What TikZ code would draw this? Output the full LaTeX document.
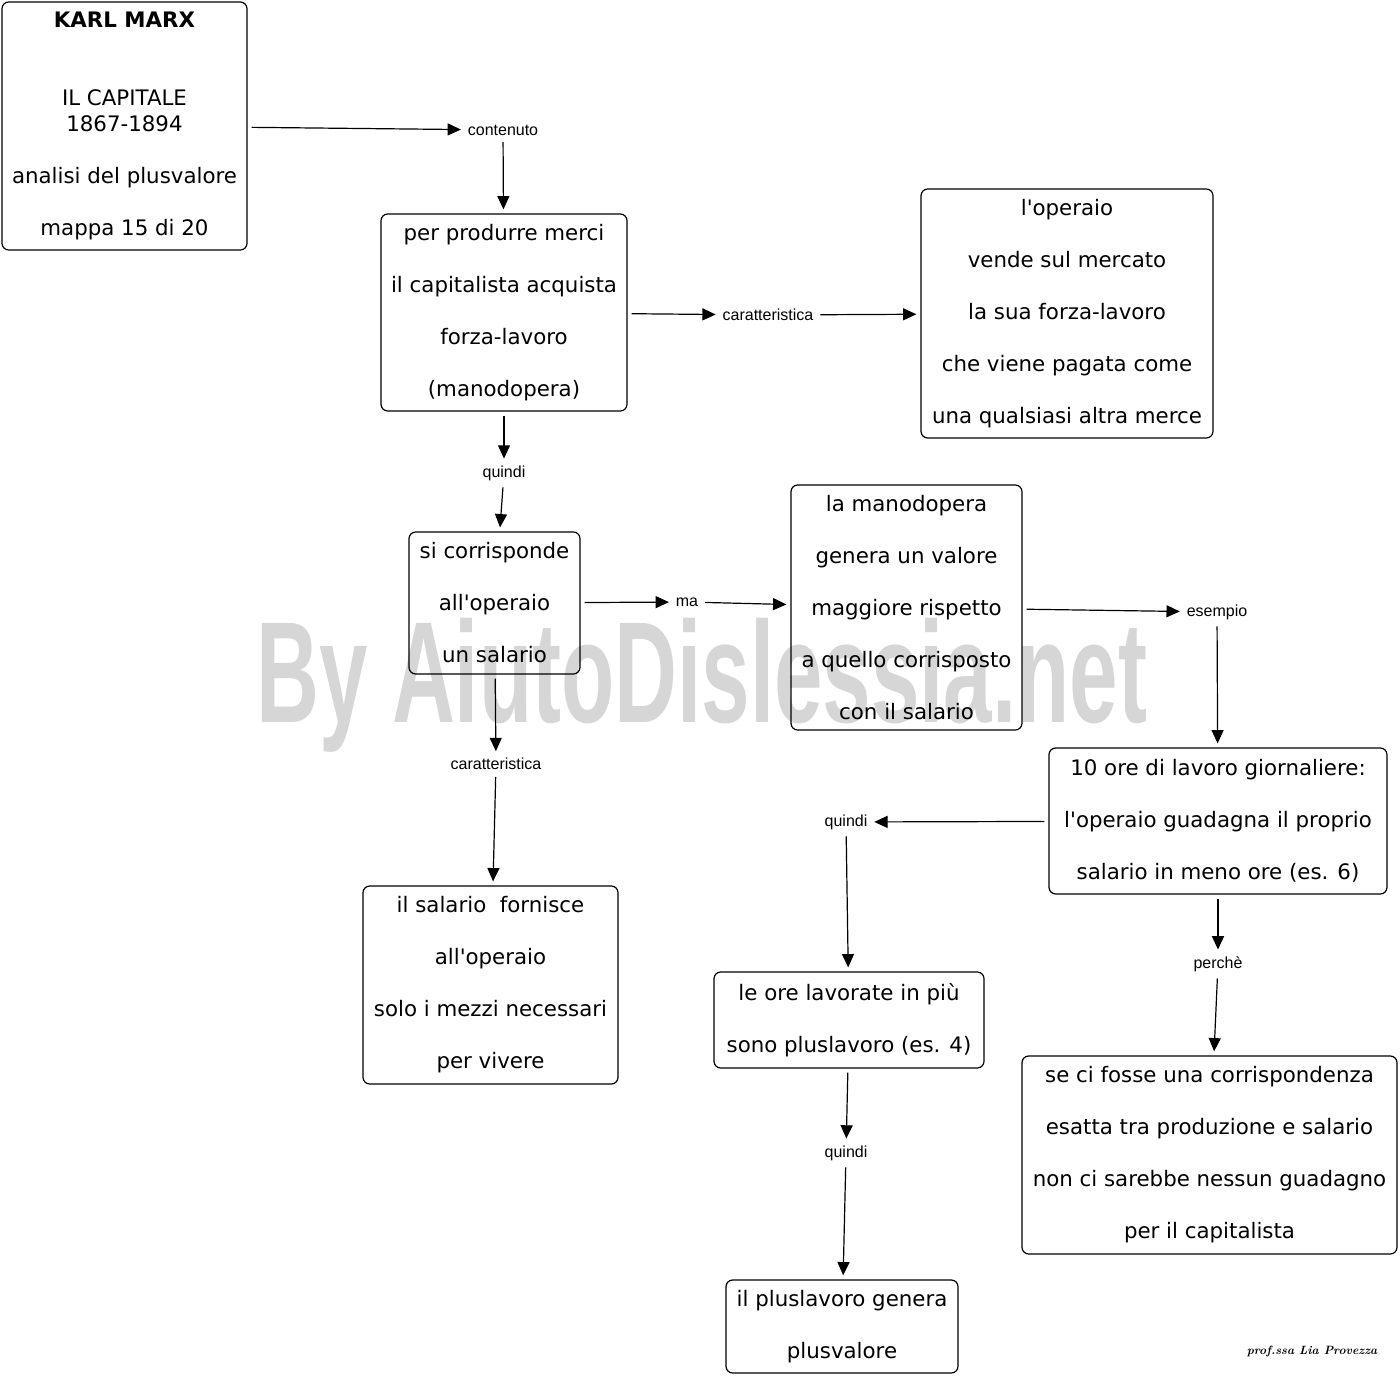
\documentclass[tikz,border=0pt]{standalone}
\usepackage{fontspec}
\newfontfamily\boxfont{DejaVu Sans}
\newfontfamily\labfont{Liberation Sans}
\usetikzlibrary{arrows.meta}
\newlength\pxu
\setlength\pxu{0.75pt}
\tikzset{
  box/.style={draw, rounded corners=5pt, line width=0.9pt, inner sep=0pt, align=center,
    font=\boxfont\fontsize{16}{19.5}\selectfont},
  lab/.style={font=\labfont\fontsize{12}{14}\selectfont, inner sep=2pt},
  conn/.style={-{Triangle[length=10pt,width=9pt]}, line width=0.9pt, shorten <=3pt, shorten >=3pt},
}
\begin{document}
\begin{tikzpicture}[x=0.75pt,y=-0.75pt]
\useasboundingbox (0,0) rectangle (1400,1376);
% watermark
\node[anchor=base, text=black!16, inner sep=0pt, font=\labfont\bfseries\fontsize{108}{112}\selectfont] (wm) at (702,722) {\scalebox{0.605}[1]{By AiutoDislessia.net}};
% boxes
\node[box, minimum width=245\pxu, minimum height=248\pxu] (b1) at (124.5,126)
  {\textbf{KARL MARX}\\[39pt]IL CAPITALE\\1867-1894\\[19.5pt]analisi del plusvalore\\[19.5pt]mappa 15 di 20};
\node[box, minimum width=246\pxu, minimum height=197\pxu] (b2) at (504,312.5)
  {per produrre merci\\[19.5pt]il capitalista acquista\\[19.5pt]forza-lavoro\\[19.5pt](manodopera)};
\node[box, minimum width=292\pxu, minimum height=249\pxu] (b3) at (1067,313.5)
  {l'operaio\\[19.5pt]vende sul mercato\\[19.5pt]la sua forza-lavoro\\[19.5pt]che viene pagata come\\[19.5pt]una qualsiasi altra merce};
\node[box, minimum width=171\pxu, minimum height=142\pxu] (b4) at (494.5,603)
  {si corrisponde\\[19.5pt]all'operaio\\[19.5pt]un salario};
\node[box, minimum width=231\pxu, minimum height=245\pxu] (b5) at (906.5,607.5)
  {la manodopera\\[19.5pt]genera un valore\\[19.5pt]maggiore rispetto\\[19.5pt]a quello corrisposto\\[19.5pt]con il salario};
\node[box, minimum width=338\pxu, minimum height=146\pxu] (b6) at (1218,821)
  {10 ore di lavoro giornaliere:\\[19.5pt]l'operaio guadagna il proprio\\[19.5pt]salario in meno ore (es. 6)};
\node[box, minimum width=255\pxu, minimum height=198\pxu] (b7) at (490.5,985)
  {il salario\ \ fornisce\\[19.5pt]all'operaio\\[19.5pt]solo i mezzi necessari\\[19.5pt]per vivere};
\node[box, minimum width=270\pxu, minimum height=96\pxu] (b8) at (849,1020)
  {le ore lavorate in più\\[19.5pt]sono pluslavoro (es. 4)};
\node[box, minimum width=375\pxu, minimum height=198\pxu] (b9) at (1209.5,1155)
  {se ci fosse una corrispondenza\\[19.5pt]esatta tra produzione e salario\\[19.5pt]non ci sarebbe nessun guadagno\\[19.5pt]per il capitalista};
\node[box, minimum width=232\pxu, minimum height=93\pxu] (b10) at (842,1326.5)
  {il pluslavoro genera\\[19.5pt]plusvalore};
% labels
\node[lab] (l1) at (503,130) {contenuto};
\node[lab] (l2) at (768,315) {caratteristica};
\node[lab] (l3) at (504,473) {quindi};
\node[lab] (l4) at (687,602) {ma};
\node[lab] (l5) at (1217,612) {esempio};
\node[lab] (l6) at (496,764) {caratteristica};
\node[lab] (l7) at (846,822) {quindi};
\node[lab] (l8) at (1218,964) {perchè};
\node[lab] (l9) at (846,1153) {quindi};
% connectors
\draw[conn] (b1) -- (l1);
\draw[conn] (l1) -- (b2);
\draw[conn] (b2) -- (l2);
\draw[conn] (l2) -- (b3);
\draw[conn] (b2) -- (l3);
\draw[conn] (l3) -- (b4);
\draw[conn] (b4) -- (l4);
\draw[conn] (l4) -- (b5);
\draw[conn] (b5) -- (l5);
\draw[conn] (l5) -- (b6);
\draw[conn] (b4) -- (l6);
\draw[conn] (l6) -- (b7);
\draw[conn] (b6) -- (l7);
\draw[conn] (l7) -- (b8);
\draw[conn] (b6) -- (l8);
\draw[conn] (l8) -- (b9);
\draw[conn] (b8) -- (l9);
\draw[conn] (l9) -- (b10);
% signature
\node[inner sep=0pt, font=\rmfamily\bfseries\itshape\fontsize{9}{11}\selectfont] (sig) at (1312,1351) {prof.ssa Lia Provezza};
\end{tikzpicture}
\end{document}
